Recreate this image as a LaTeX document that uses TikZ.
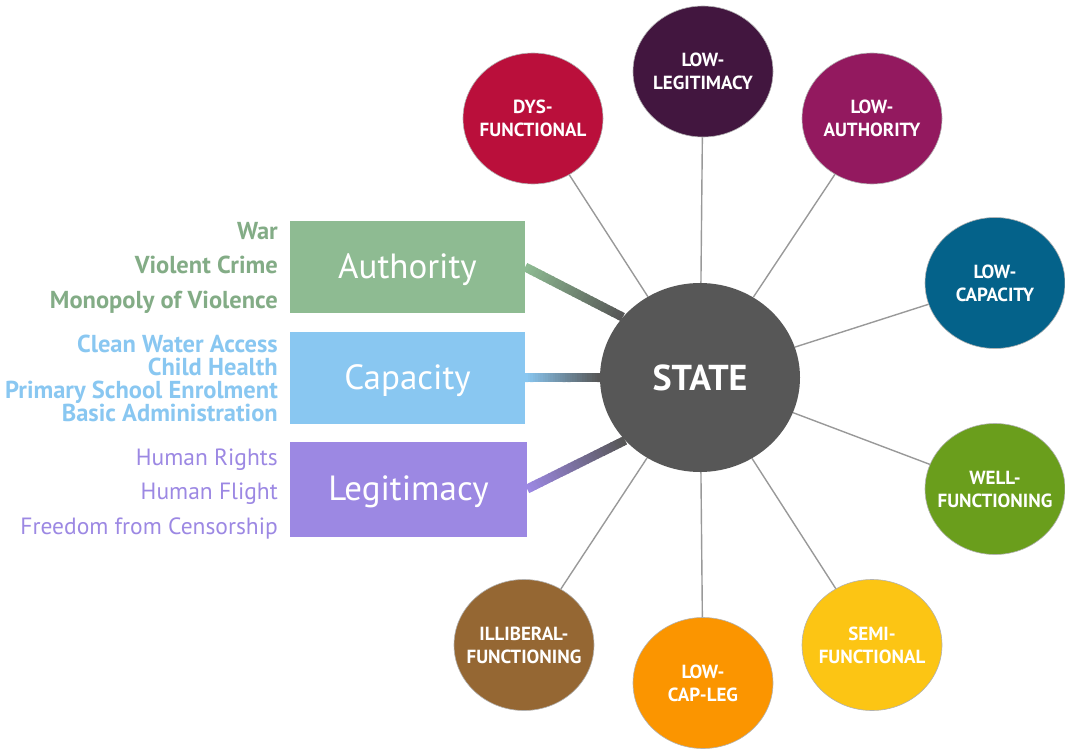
\documentclass[tikz,border=0pt]{standalone}
\usepackage{fontspec}
\setmainfont{PT Sans}
\usetikzlibrary{calc,shapes.geometric}

\definecolor{statec}{HTML}{575757}
\definecolor{authc}{HTML}{8EBB92}
\definecolor{capc}{HTML}{89C7F1}
\definecolor{legc}{HTML}{9C88E3}
\definecolor{dysc}{HTML}{BA0F3B}
\definecolor{lowlegc}{HTML}{42163F}
\definecolor{lowauthc}{HTML}{93195F}
\definecolor{lowcapc}{HTML}{04628A}
\definecolor{wellc}{HTML}{6A9E1C}
\definecolor{semic}{HTML}{FCC514}
\definecolor{lowcaplegc}{HTML}{FB9500}
\definecolor{illibc}{HTML}{956733}

\tikzset{
  kind/.style={ellipse, minimum width=140pt, minimum height=131pt, inner sep=-25pt,
    draw=black!30, line width=0.6pt, text=white, align=center,
    font=\bfseries\fontsize{19}{23}\selectfont},
  dimbox/.style={rectangle, minimum width=235pt, minimum height=92pt, inner sep=0pt,
    text height=23pt, text depth=0pt, text=white, font=\fontsize{35}{40}\selectfont},
  spoke/.style={draw=black!40, line width=1.4pt},
  item/.style={anchor=base east, inner sep=0pt, text=#1, font=\fontsize{23.5}{24}\selectfont},
  bolditem/.style={item=#1, font=\bfseries\fontsize{24.5}{25}\selectfont},
}

% bar that fades from the box colour to the grey of the centre
\newcommand{\fadebar}[3]{%
  \foreach \i in {0,...,29}{%
    \pgfmathsetmacro\ta{\i/30}%
    \pgfmathsetmacro\tb{min(1,(\i+1.3)/30)}%
    \pgfmathtruncatemacro\pc{100-\i*100/29}%
    \draw[line width=9pt, draw=#3!\pc!statec] ($(#1)!\ta!(#2)$) -- ($(#1)!\tb!(#2)$);
  }%
}

\begin{document}
\begin{tikzpicture}[x=1pt,y=-1pt]
    \useasboundingbox (0,0) rectangle (1065,749);
    % centre
    \node[ellipse, fill=statec, minimum width=200pt, minimum height=189pt, inner sep=0pt,
        text=white, font=\bfseries\fontsize{36}{40}\selectfont] (state) at (700,377.5) {STATE};
    % the eight kinds of state
    \node[kind, fill=dysc] (dys) at (533,118.5) {DYS-\\FUNCTIONAL};
    \node[kind, fill=lowlegc] (lowleg) at (703,71.5) {LOW-\\LEGITIMACY};
    \node[kind, fill=lowauthc] (lowauth) at (872,118.5) {LOW-\\AUTHORITY};
    \node[kind, fill=lowcapc] (lowcap) at (995,283) {LOW-\\CAPACITY};
    \node[kind, fill=wellc] (well) at (995,489) {WELL-\\FUNCTIONING};
    \node[kind, fill=semic] (semi) at (872,645) {SEMI-\\FUNCTIONAL};
    \node[kind, fill=lowcaplegc] (lowcapleg) at (703,683) {LOW-\\CAP-LEG};
    \node[kind, fill=illibc] (illib) at (524,645) {ILLIBERAL-\\FUNCTIONING};
    \foreach \k in {dys,lowleg,lowauth,lowcap,well,semi,lowcapleg,illib}
        \draw[spoke] (state) -- (\k);
    % the three dimensions
    \node[dimbox, fill=authc] (auth) at (407.5,267) {Authority};
    \node[dimbox, fill=capc] (capa) at (407.5,377.5) {Capacity};
    \node[dimbox, fill=legc, minimum width=237pt, minimum height=95pt] (legit) at (408.5,489) {Legitimacy};
    \fadebar{auth.east}{state.142}{authc}
    \fadebar{capa.east}{state.180}{capc}
    \fadebar{legit.east}{state.220}{legc}
    % indicators
    \node[bolditem=authc!92!black] (war) at (278,239.3) {War};
    \node[bolditem=authc!92!black] (crime) at (278,273.5) {Violent Crime};
    \node[bolditem=authc!92!black] (monopoly) at (278,308.3) {Monopoly of Violence};
    \node[bolditem=capc] (water) at (278,352.7) {Clean Water Access};
    \node[bolditem=capc] (health) at (278,375.3) {Child Health};
    \node[bolditem=capc] (school) at (278,398.2) {Primary School Enrolment};
    \node[bolditem=capc] (admin) at (278,421) {Basic Administration};
    \node[item=legc] (rights) at (278,465) {Human Rights};
    \node[item=legc] (flight) at (278,499.5) {Human Flight};
    \node[item=legc] (censor) at (278,534) {Freedom from Censorship};
\end{tikzpicture}
\end{document}
